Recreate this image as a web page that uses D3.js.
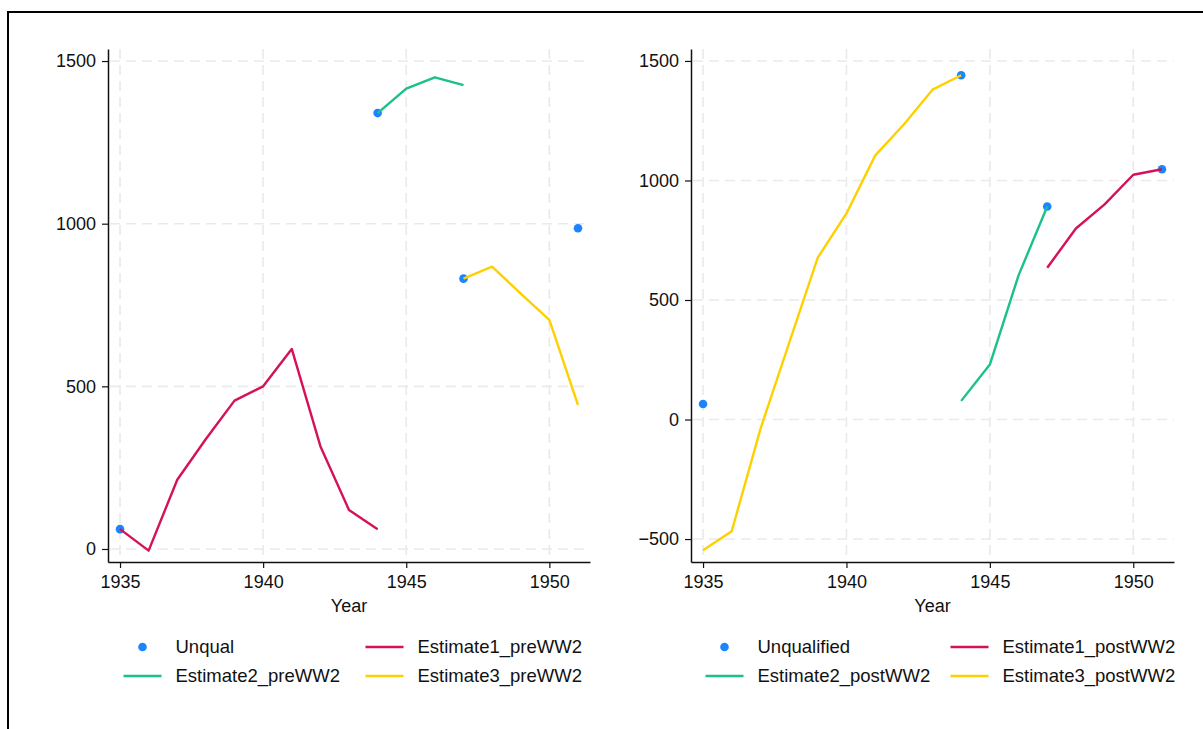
<!DOCTYPE html>
<html>
<head>
<meta charset="utf-8">
<script src="https://cdn.jsdelivr.net/npm/d3@7/dist/d3.min.js"></script>
<style>
  html, body { margin: 0; padding: 0; background: #fff; }
  svg { display: block; }
  text { font-family: "Liberation Sans", Arial, sans-serif; fill: #111; }
</style>
</head>
<body>
<svg id="chart" width="1203" height="729"></svg>
<script>
// Years shared by both panels
const years = [1935, 1936, 1937, 1938, 1939, 1940, 1941, 1942, 1943, 1944, 1945, 1946, 1947, 1948, 1949, 1950, 1951];

// Pre-WW2 panel series (null = no observation)
const unqualPre  = [61, null, null, null, null, null, null, null, null, 1340, null, null, 831, null, null, null, 986];
const est1Pre    = [61, -5, 213, 338, 456, 500, 615, 316, 120, 61, null, null, null, null, null, null, null];
const est2Pre    = [null, null, null, null, null, null, null, null, null, 1340, 1415, 1450, 1426, null, null, null, null];
const est3Pre    = [null, null, null, null, null, null, null, null, null, null, null, null, 831, 868, 785, 704, 443];

// Post-WW2 panel series
const unqualPost = [65, null, null, null, null, null, null, null, null, 1440, null, null, 891, null, null, null, 1047];
const est1Post   = [null, null, null, null, null, null, null, null, null, null, null, null, 635, 799, 900, 1024, 1047];
const est2Post   = [null, null, null, null, null, null, null, null, null, 78, 230, 603, 891, null, null, null, null];
const est3Post   = [-547, -467, -40, 320, 677, 862, 1104, 1234, 1380, 1440, null, null, null, null, null, null, null];

// Axis ticks
const xTicks = [1935, 1940, 1945, 1950];
const yTicksPre = [0, 500, 1000, 1500];
const yTicksPost = [-500, 0, 500, 1000, 1500];

// Legend labels
const labelsPre  = ["Unqual", "Estimate1_preWW2", "Estimate2_preWW2", "Estimate3_preWW2"];
const labelsPost = ["Unqualified", "Estimate1_postWW2", "Estimate2_postWW2", "Estimate3_postWW2"];

const colors = { dot: "#1A85FF", e1: "#D41159", e2: "#1BC08A", e3: "#FFD000" };

const svg = d3.select("#chart");

// Outer frame
svg.append("rect")
  .attr("x", 8).attr("y", 12).attr("width", 1400).attr("height", 900)
  .attr("fill", "none").attr("stroke", "#000").attr("stroke-width", 2);

function panel(cfg) {
  const g = svg.append("g");
  const x = d3.scaleLinear().domain([1934.58, 1951.42]).range([cfg.left, cfg.right]);
  const y = d3.scaleLinear().domain(cfg.yDomain).range([562, 49]);

  // Dashed grid
  const grid = g.append("g").attr("stroke", "#eaeaea").attr("stroke-width", 1.6)
    .attr("stroke-dasharray", "10,6").attr("fill", "none");
  grid.selectAll("line.h").data(cfg.yTicks).join("line")
    .attr("x1", cfg.left + 2).attr("x2", cfg.right)
    .attr("y1", d => y(d)).attr("y2", d => y(d));
  grid.selectAll("line.v").data(xTicks).join("line")
    .attr("x1", d => x(d)).attr("x2", d => x(d))
    .attr("y1", 49).attr("y2", 560);

  // Axes
  const xAxis = g.append("g").attr("transform", "translate(0,562)")
    .call(d3.axisBottom(x).tickValues(xTicks).tickFormat(d3.format("d")).tickSize(6).tickPadding(7).tickSizeOuter(0));
  const yAxis = g.append("g").attr("transform", `translate(${cfg.left},0)`)
    .call(d3.axisLeft(y).tickValues(cfg.yTicks).tickFormat(d3.format("d")).tickSize(6).tickPadding(6).tickSizeOuter(0));
  [xAxis, yAxis].forEach(a => {
    a.select(".domain").attr("stroke", "#111").attr("stroke-width", 1.5);
    a.selectAll(".tick line").attr("stroke", "#111").attr("stroke-width", 1.2);
    a.selectAll(".tick text").style("font-size", "18px").style("font-family", "Liberation Sans, Arial, sans-serif").attr("fill", "#111");
  });

  g.append("text")
    .attr("x", (cfg.left + cfg.right) / 2).attr("y", 612)
    .attr("text-anchor", "middle").style("font-size", "18px").text("Year");

  const line = d3.line().defined(d => d.v !== null).x(d => x(d.t)).y(d => y(d.v));
  const pts = arr => years.map((t, i) => ({ t, v: arr[i] }));

  // Unqualified points
  g.append("g").selectAll("circle")
    .data(pts(cfg.unqual).filter(d => d.v !== null)).join("circle")
    .attr("cx", d => x(d.t)).attr("cy", d => y(d.v)).attr("r", 4.3)
    .attr("fill", colors.dot);

  // Estimate lines
  [[cfg.e1, colors.e1], [cfg.e2, colors.e2], [cfg.e3, colors.e3]].forEach(([arr, c]) => {
    g.append("path").datum(pts(arr)).attr("d", line)
      .attr("fill", "none").attr("stroke", c).attr("stroke-width", 2.4)
      .attr("stroke-linejoin", "round");
  });

  // Legend (2 columns x 2 rows)
  const lg = g.append("g");
  const entries = [
    { label: cfg.labels[0], kind: "dot",  color: colors.dot, col: 0, row: 0 },
    { label: cfg.labels[1], kind: "line", color: colors.e1,  col: 1, row: 0 },
    { label: cfg.labels[2], kind: "line", color: colors.e2,  col: 0, row: 1 },
    { label: cfg.labels[3], kind: "line", color: colors.e3,  col: 1, row: 1 }
  ];
  entries.forEach(e => {
    const cx = cfg.legendCols[e.col];
    const cy = 647 + e.row * 29;
    if (e.kind === "dot") {
      lg.append("circle").attr("cx", cx).attr("cy", cy).attr("r", 4.3).attr("fill", e.color);
    } else {
      lg.append("line").attr("x1", cx - 19).attr("x2", cx + 19)
        .attr("y1", cy).attr("y2", cy).attr("stroke", e.color).attr("stroke-width", 2.6);
    }
    lg.append("text").attr("x", cx + 33).attr("y", cy).attr("dy", "0.35em")
      .style("font-size", "18.5px").text(e.label);
  });
}

panel({
  left: 108, right: 590, yDomain: [-40, 1537], yTicks: yTicksPre,
  unqual: unqualPre, e1: est1Pre, e2: est2Pre, e3: est3Pre,
  labels: labelsPre, legendCols: [142.5, 384.5]
});

panel({
  left: 691, right: 1174, yDomain: [-596, 1550], yTicks: yTicksPost,
  unqual: unqualPost, e1: est1Post, e2: est2Post, e3: est3Post,
  labels: labelsPost, legendCols: [724.5, 969.5]
});
</script>
</body>
</html>
